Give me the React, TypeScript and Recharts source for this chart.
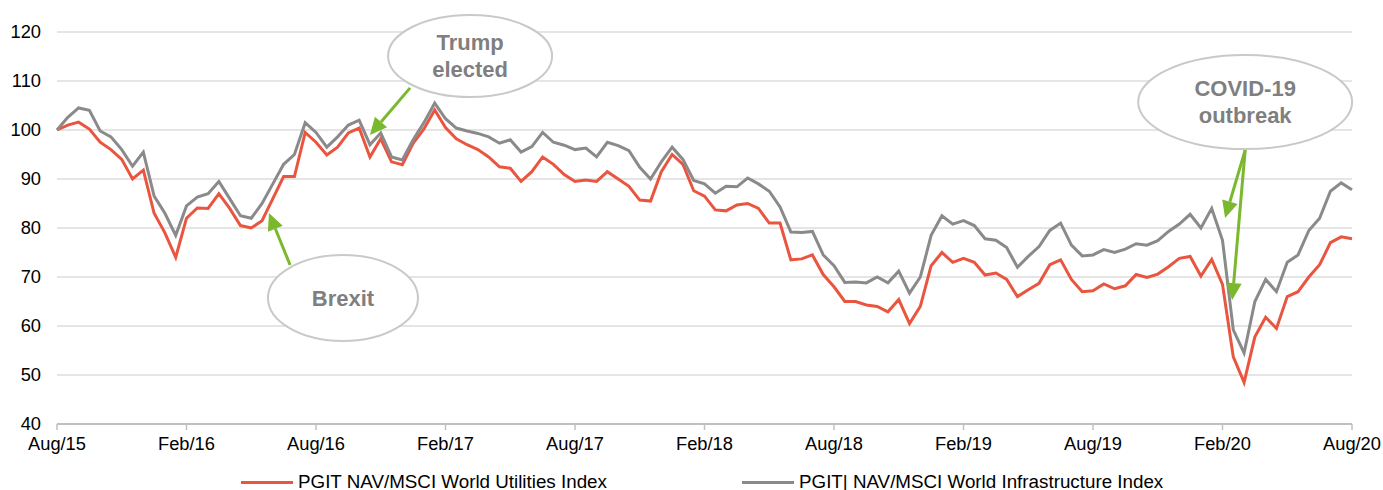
import React from 'react';
import { LineChart, Line, XAxis, YAxis, CartesianGrid, ReferenceDot, ReferenceLine } from 'recharts';

// half-monthly readings, Aug/15 -> Aug/20
const infraValues = [
  100, 102.6, 104.5, 104, 99.8, 98.6, 96, 92.6, 95.5, 86.5,
  83, 78.5, 84.5, 86.3, 87, 89.5, 86, 82.5, 82, 85,
  89, 93, 95, 101.5, 99.5, 96.5, 98.6, 101, 102, 97,
  99.4, 94.5, 93.9, 98, 101.5, 105.5, 102.3, 100.4, 99.8, 99.3,
  98.6, 97.3, 98, 95.5, 96.6, 99.5, 97.5, 96.9, 96, 96.3,
  94.5, 97.5, 96.8, 95.8, 92.4, 90, 93.5, 96.5, 94, 89.7,
  89, 87.1, 88.5, 88.4, 90.2, 89, 87.5, 84.3, 79.2, 79.1,
  79.3, 74.5, 72.3, 68.9, 69, 68.8, 70, 68.8, 71.2, 66.7,
  70, 78.5, 82.5, 80.8, 81.5, 80.5, 77.8, 77.5, 76, 72,
  74.2, 76.2, 79.5, 81, 76.5, 74.3, 74.5, 75.6, 75, 75.7,
  76.8, 76.5, 77.4, 79.3, 80.8, 82.8, 80, 84, 77.5, 59.2,
  54.5, 65, 69.5, 67, 73, 74.5, 79.5, 82, 87.5, 89.2,
  87.8,
];

const utilValues = [
  100, 101, 101.6, 100.2, 97.5, 96, 94, 90, 91.8, 83,
  79, 74, 82, 84.1, 84, 87, 84, 80.5, 80, 81.5,
  86, 90.5, 90.5, 99.5, 97.5, 94.9, 96.5, 99.4, 100.4, 94.5,
  98.2, 93.5, 92.9, 97.3, 100.2, 104.1, 100.5, 98.2, 97, 96,
  94.5, 92.5, 92.2, 89.5, 91.5, 94.5, 93, 90.9, 89.5, 89.8,
  89.5, 91.5, 90, 88.5, 85.7, 85.5, 91.5, 95, 93, 87.6,
  86.5, 83.7, 83.5, 84.7, 85, 84, 81, 81, 73.5, 73.7,
  74.5, 70.5, 68, 65, 65, 64.3, 64, 62.9, 65.4, 60.5,
  64, 72.3, 75, 73, 73.8, 73, 70.4, 70.8, 69.5, 66,
  67.4, 68.7, 72.5, 73.5, 69.5, 67, 67.2, 68.6, 67.6, 68.2,
  70.5, 69.9, 70.6, 72.1, 73.8, 74.2, 70.2, 73.6, 68.5, 53.7,
  48.5, 57.8, 61.8, 59.5, 66, 67, 70, 72.5, 77, 78.2,
  77.8,
];

const tickLabels = ['Aug/15', 'Feb/16', 'Aug/16', 'Feb/17', 'Aug/17', 'Feb/18', 'Aug/18', 'Feb/19', 'Aug/19', 'Feb/20', 'Aug/20'];
const yTicks = [40, 50, 60, 70, 80, 90, 100, 110, 120];

const RED = '#e9553f';
const GREY = '#8a8a8a';
const GREEN = '#7ab82e';
const FONT = '"Liberation Sans", Arial, sans-serif';

// t = months since Aug/15
const data = utilValues.map((u, i) => ({ t: i / 2, util: u, infra: infraValues[i] }));
const xTicks = tickLabels.map((_, i) => i * 6);

const bubble = (lines: string[], rx: number, ry: number) => (props: any) => {
  const { cx, cy } = props;
  const lh = 27;
  const start = cy - ((lines.length - 1) * lh) / 2;
  return (
    <g>
      <ellipse cx={cx} cy={cy} rx={rx} ry={ry} fill="#fff" stroke="#c9c9c9" strokeWidth={2} />
      {lines.map((l, i) => (
        <text key={i} x={cx} y={start + i * lh} dy="0.36em" textAnchor="middle"
          fontFamily={FONT} fontSize={22} fontWeight="bold" fill="#7f7f7f">{l}</text>
      ))}
    </g>
  );
};

const arrow = (props: any) => {
  const { x1, y1, x2, y2 } = props;
  const dx = x2 - x1, dy = y2 - y1;
  const len = Math.sqrt(dx * dx + dy * dy);
  const ux = dx / len, uy = dy / len;
  const head = 17, half = 8;
  const bx = x2 - ux * head, by = y2 - uy * head;
  const pts = `${x2},${y2} ${bx - uy * half},${by + ux * half} ${bx + uy * half},${by - ux * half}`;
  return (
    <g>
      <line x1={x1} y1={y1} x2={bx} y2={by} stroke={GREEN} strokeWidth={3} />
      <polygon points={pts} fill={GREEN} />
    </g>
  );
};

const LegendItem = ({ color, label, left }: { color: string; label: string; left: number }) => (
  <div style={{ position: 'absolute', left, top: 471, display: 'flex', alignItems: 'center' }}>
    <div style={{ width: 52, height: 3, background: color, marginRight: 5 }} />
    <span style={{ fontFamily: FONT, fontSize: 18.8, color: '#000', whiteSpace: 'nowrap' }}>{label}</span>
  </div>
);

export default function App() {
  return (
    <div style={{ position: 'absolute', left: 0, top: 0, width: 1383, height: 490, background: '#fff' }}>
      <LineChart width={1383} height={490} data={data} margin={{ top: 32, right: 31, left: 0, bottom: 36 }}>
        <CartesianGrid vertical={false} stroke="#dcdcdc" strokeWidth={1.5} />
        <XAxis
          dataKey="t"
          type="number"
          domain={[0, 60]}
          ticks={xTicks}
          tickFormatter={(v: number) => tickLabels[Math.round(v / 6)]}
          interval={0}
          height={30}
          axisLine={{ stroke: '#c0c0c0', strokeWidth: 2 }}
          tickLine={{ stroke: '#c0c0c0', strokeWidth: 1.5 }}
          tickSize={6}
          tickMargin={7}
          tick={{ fontFamily: FONT, fontSize: 18.3, fill: '#000' }}
        />
        <YAxis
          domain={[40, 120]}
          ticks={yTicks}
          width={57}
          axisLine={false}
          tickLine={false}
          tickSize={0}
          tickMargin={16}
          tick={{ fontFamily: FONT, fontSize: 18.3, fill: '#000' }}
        />
        <Line type="linear" dataKey="util" stroke={RED} strokeWidth={3} dot={false} isAnimationActive={false} />
        <Line type="linear" dataKey="infra" stroke={GREY} strokeWidth={3} dot={false} isAnimationActive={false} />

        <ReferenceLine segment={[{ x: 16.36, y: 108.6 }, { x: 14.5, y: 99.0 }]} shape={arrow} ifOverflow="visible" />
        <ReferenceLine segment={[{ x: 10.8, y: 72.45 }, { x: 9.82, y: 83.06 }]} shape={arrow} ifOverflow="visible" />
        <ReferenceLine segment={[{ x: 55.05, y: 95.9 }, { x: 54.12, y: 82.04 }]} shape={arrow} ifOverflow="visible" />
        <ReferenceLine segment={[{ x: 55.05, y: 95.9 }, { x: 54.45, y: 65.3 }]} shape={arrow} ifOverflow="visible" />

        <ReferenceDot x={19.14} y={115.1} r={1} ifOverflow="visible" shape={bubble(['Trump', 'elected'], 82, 41)} />
        <ReferenceDot x={13.25} y={65.7} r={1} ifOverflow="visible" shape={bubble(['Brexit'], 75, 43)} />
        <ReferenceDot x={55.05} y={105.7} r={1} ifOverflow="visible" shape={bubble(['COVID-19', 'outbreak'], 107, 47)} />
      </LineChart>
      <LegendItem color={RED} label="PGIT NAV/MSCI World Utilities Index" left={241} />
      <LegendItem color={GREY} label="PGIT| NAV/MSCI World Infrastructure Index" left={742} />
    </div>
  );
}
